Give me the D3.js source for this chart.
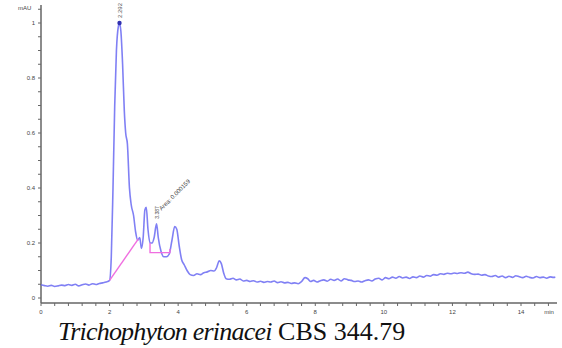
<!DOCTYPE html>
<html>
<head>
<meta charset="utf-8">
<script src="https://cdn.jsdelivr.net/npm/d3@7"></script>
<style>
  body { margin: 0; background: #fff; }
  svg { display: block; }
</style>
</head>
<body>
<div id="chart"></div>
<script>
// retention time (min) and absorbance (mAU)
const times = [
  0.0, 0.1, 0.2, 0.3, 0.4, 0.5, 0.6, 0.7, 0.8, 0.9, 1.0, 1.1, 1.2, 1.3, 1.4, 1.5, 1.6, 1.7, 1.8, 1.9,
  2.0, 2.05, 2.1, 2.15, 2.2, 2.26, 2.29, 2.33, 2.38, 2.43, 2.47, 2.52, 2.58, 2.63, 2.7, 2.76, 2.82, 2.88,
  2.93, 2.98, 3.03, 3.07, 3.12, 3.18, 3.24, 3.3, 3.37, 3.42, 3.5, 3.58, 3.66, 3.74, 3.82, 3.9, 3.96,
  4.03, 4.1, 4.18, 4.26, 4.35, 4.45, 4.55, 4.65, 4.75, 4.85, 4.95, 5.05, 5.12, 5.2, 5.26, 5.33, 5.4,
  5.5, 5.6, 5.7, 5.8, 5.9, 6.0, 6.1, 6.2, 6.3, 6.4, 6.5, 6.6, 6.7, 6.8, 6.9, 7.0, 7.1, 7.2, 7.3, 7.4,
  7.5, 7.6, 7.7, 7.78, 7.86, 7.95, 8.05, 8.15, 8.25, 8.35, 8.45, 8.55, 8.65, 8.75, 8.85, 8.95, 9.05,
  9.15, 9.25, 9.35, 9.45, 9.55, 9.65, 9.75, 9.85, 9.95, 10.05, 10.15, 10.25, 10.35, 10.45, 10.55,
  10.65, 10.75, 10.85, 10.95, 11.05, 11.15, 11.25, 11.35, 11.45, 11.55, 11.65, 11.75, 11.85, 11.95,
  12.05, 12.15, 12.25, 12.35, 12.45, 12.55, 12.65, 12.75, 12.85, 12.95, 13.05, 13.15, 13.25, 13.35,
  13.45, 13.55, 13.65, 13.75, 13.85, 13.95, 14.05, 14.15, 14.25, 14.35, 14.45, 14.55, 14.65, 14.75,
  14.85, 14.95, 15.0
];
const absorbance = [
  0.048, 0.045, 0.043, 0.046, 0.042, 0.044, 0.047, 0.045, 0.049, 0.046, 0.050, 0.044, 0.048, 0.051, 0.047, 0.052, 0.049, 0.053, 0.055, 0.058,
  0.064, 0.15, 0.40, 0.70, 0.90, 0.99, 1.0, 0.97, 0.85, 0.68, 0.60, 0.56, 0.40, 0.34, 0.30, 0.24, 0.21, 0.22,
  0.18, 0.22, 0.32, 0.33, 0.25, 0.20, 0.20, 0.22, 0.27, 0.22, 0.17, 0.15, 0.15, 0.16, 0.21, 0.26, 0.25,
  0.19, 0.14, 0.12, 0.10, 0.085, 0.082, 0.088, 0.085, 0.092, 0.095, 0.10, 0.098, 0.11, 0.135, 0.125, 0.09, 0.07,
  0.068, 0.072, 0.066, 0.069, 0.062, 0.064, 0.060, 0.063, 0.058, 0.061, 0.057, 0.060, 0.058, 0.062, 0.056, 0.059, 0.055, 0.057, 0.053, 0.055,
  0.052, 0.060, 0.074, 0.070, 0.060, 0.064, 0.058, 0.063, 0.066, 0.061, 0.068, 0.064, 0.069, 0.062, 0.070, 0.066, 0.064,
  0.060, 0.062, 0.058, 0.063, 0.066, 0.062, 0.069, 0.072, 0.066, 0.074, 0.070, 0.076, 0.072, 0.078, 0.073,
  0.076, 0.071, 0.077, 0.074, 0.080, 0.076, 0.082, 0.079, 0.085, 0.083, 0.088, 0.086, 0.090, 0.088,
  0.091, 0.089, 0.092, 0.090, 0.094, 0.088, 0.086, 0.087, 0.083, 0.085, 0.080, 0.078, 0.082, 0.076,
  0.080, 0.074, 0.079, 0.075, 0.081, 0.077, 0.074, 0.079, 0.075, 0.073, 0.078, 0.074, 0.076, 0.072,
  0.077, 0.075, 0.076
];

// integration baselines (pink)
const baseline1 = [[2.0, 0.064], [2.84, 0.215]];
const baseline2 = [[3.18, 0.2], [3.18, 0.165], [3.76, 0.165], [3.76, 0.178]];

const xMajor = [0, 2, 4, 6, 8, 10, 12, 14];
const yMajor = [0, 0.2, 0.4, 0.6, 0.8, 1];
const yLabels = ["0", "0.2", "0.4", "0.6", "0.8", "1"];

const peakTime = 2.29;
const peakValue = 1.0;
const peakLabel = "2.292";
const peak2Time = 3.37;
const peak2Label = "3.387";
const peak2Note = "Area: 0.000159";
const title = ["Trichophyton erinacei", " CBS 344.79"];

const width = 562;
const height = 348;

const svg = d3.select("#chart").append("svg")
  .attr("width", width)
  .attr("height", height);

const x = d3.scaleLinear().domain([0, 15.05]).range([41, 557]);
const y = d3.scaleLinear().domain([0, 1]).range([298, 23]);

const axisColor = "#666";

// y axis
const yAxis = svg.append("g").attr("transform", `translate(${x(0)},0)`);
yAxis.append("line")
  .attr("y1", 5).attr("y2", y(0) + 5)
  .attr("stroke", axisColor).attr("stroke-width", 1.5);
yAxis.selectAll(".minor")
  .data(d3.range(0, 1.06, 0.05))
  .join("line")
  .attr("x1", -3).attr("x2", 0)
  .attr("y1", (d) => y(d)).attr("y2", (d) => y(d))
  .attr("stroke", axisColor);
yAxis.selectAll(".lbl")
  .data(yMajor)
  .join("text")
  .attr("x", -6).attr("y", (d) => y(d) + 2)
  .attr("text-anchor", "end")
  .attr("font-family", "Arial, Liberation Sans, sans-serif")
  .attr("font-size", 6)
  .attr("fill", "#444")
  .text((d, i) => yLabels[i]);
svg.append("text")
  .attr("x", 18).attr("y", 10)
  .attr("font-family", "Arial, Liberation Sans, sans-serif")
  .attr("font-size", 6)
  .attr("fill", "#444")
  .text("mAU");

// x axis
const xAxis = svg.append("g").attr("transform", `translate(0,${y(0) + 5})`);
xAxis.append("line")
  .attr("x1", x(0)).attr("x2", 557)
  .attr("stroke", axisColor).attr("stroke-width", 1.5);
xAxis.selectAll(".minor")
  .data(d3.range(0, 15.01, 0.4))
  .join("line")
  .attr("x1", (d) => x(d)).attr("x2", (d) => x(d))
  .attr("y1", 0).attr("y2", 3)
  .attr("stroke", axisColor);
xAxis.selectAll(".lbl")
  .data(xMajor)
  .join("text")
  .attr("x", (d) => x(d)).attr("y", 11)
  .attr("text-anchor", "middle")
  .attr("font-family", "Arial, Liberation Sans, sans-serif")
  .attr("font-size", 6)
  .attr("fill", "#444")
  .text((d) => d);
xAxis.append("text")
  .attr("x", 549).attr("y", 11)
  .attr("text-anchor", "middle")
  .attr("font-family", "Arial, Liberation Sans, sans-serif")
  .attr("font-size", 6)
  .attr("fill", "#444")
  .text("min");

// trace
const points = times.map((t, i) => [t, absorbance[i]]);
const line = d3.line().x((d) => x(d[0])).y((d) => y(d[1])).curve(d3.curveMonotoneX);

svg.append("path")
  .datum(points)
  .attr("d", line)
  .attr("fill", "none")
  .attr("stroke", "#6a6af2")
  .attr("stroke-width", 1.6)
  .attr("stroke-opacity", 0.85);

const straight = d3.line().x((d) => x(d[0])).y((d) => y(d[1]));
[baseline1, baseline2].forEach((b) => {
  svg.append("path")
    .attr("d", straight(b))
    .attr("fill", "none")
    .attr("stroke", "#f06ee0")
    .attr("stroke-width", 1.4);
});

// peak annotations
svg.append("circle")
  .attr("cx", x(peakTime)).attr("cy", y(peakValue))
  .attr("r", 2.2)
  .attr("fill", "#3030b0");
svg.append("text")
  .attr("transform", `translate(${x(peakTime) + 2},${y(peakValue) - 5}) rotate(-90)`)
  .attr("font-family", "Arial, Liberation Sans, sans-serif")
  .attr("font-size", 6)
  .attr("fill", "#555")
  .text(peakLabel);
svg.append("text")
  .attr("transform", `translate(${x(peak2Time) + 2},${y(0.27) - 5}) rotate(-90)`)
  .attr("font-family", "Arial, Liberation Sans, sans-serif")
  .attr("font-size", 5)
  .attr("fill", "#444")
  .text(peak2Label);
svg.append("text")
  .attr("transform", `translate(${x(peak2Time) + 5},${y(0.27) - 13}) rotate(-45)`)
  .attr("font-family", "Arial, Liberation Sans, sans-serif")
  .attr("font-size", 6)
  .attr("fill", "#444")
  .text(peak2Note);

// caption
const cap = svg.append("text")
  .attr("x", 58).attr("y", 340)
  .attr("font-family", "Liberation Serif, Times New Roman, serif")
  .attr("font-size", 26)
  .attr("fill", "#111");
cap.append("tspan").attr("font-style", "italic").attr("letter-spacing", -0.8).text(title[0]);
cap.append("tspan").text(title[1]);
</script>
</body>
</html>
